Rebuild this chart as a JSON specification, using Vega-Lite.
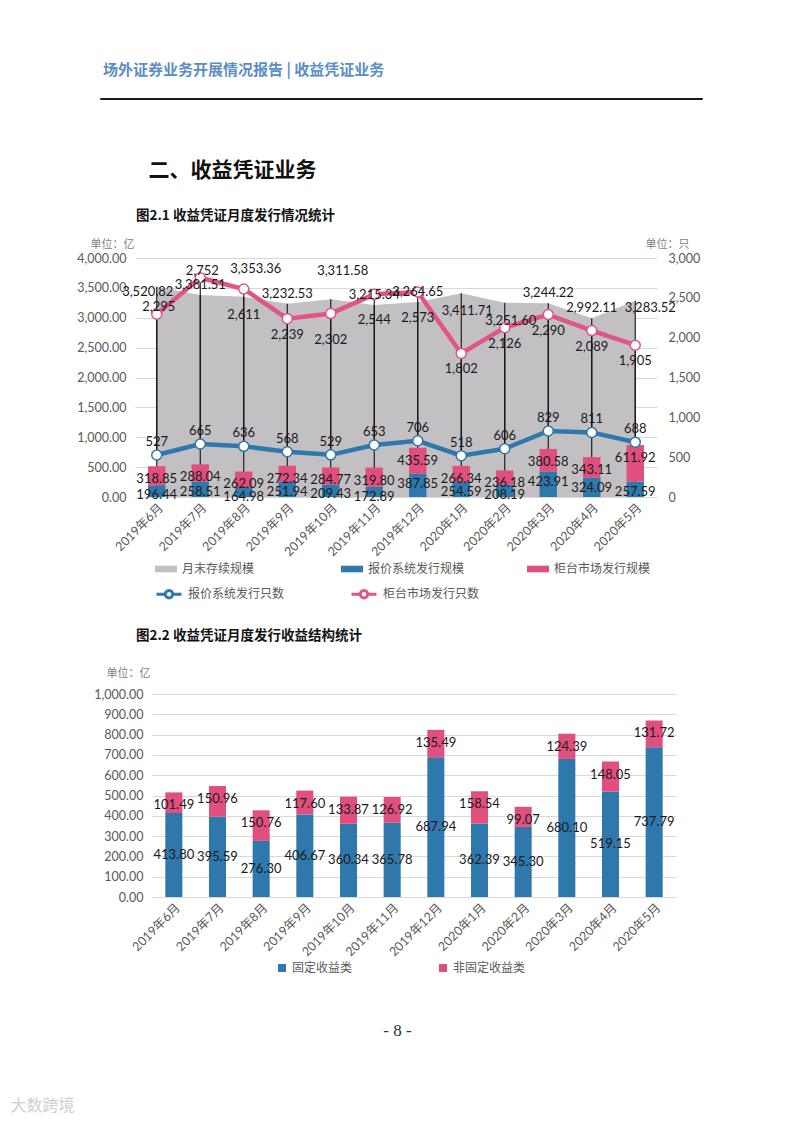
{
"$schema": "https://vega.github.io/schema/vega-lite/v6.json",
"padding": {"left": 10, "top": 62, "right": 5, "bottom": 5},
"background": "white",
"bounds": "flush",
"spacing": 159,
"resolve": {"scale": {"color": "independent", "stroke": "independent"}, "legend": {"color": "independent", "stroke": "independent"}},
"config": {
  "view": {"stroke": null},
  "font": "Lato, 'Noto Sans CJK SC', sans-serif",
  "axis": {"labelFont": "Lato, 'Noto Sans CJK SC', sans-serif", "titleFont": "'Noto Sans CJK SC', sans-serif", "labelColor": "#595959", "labelFontSize": 12, "labelOverlap": false, "domain": false, "ticks": false, "gridColor": "#d9d9d9", "gridWidth": 1},
  "legend": {"labelFont": "'Noto Sans CJK SC', sans-serif", "labelColor": "#595959", "labelFontSize": 12, "padding": 0},
  "title": {"font": "'Noto Sans CJK SC', sans-serif", "anchor": "start", "frame": "group", "color": "#111111"},
  "text": {"font": "Lato, sans-serif", "fontSize": 13, "color": "#1a1a1a"}
},
"vconcat": [
{
  "width": 602, "height": 1,
  "view": {"stroke": "#1a1a1a", "strokeWidth": 1},
  "title": {"text": "场外证券业务开展情况报告 | 收益凭证业务", "dx": 3, "offset": 20, "fontSize": 15, "fontWeight": "bold", "color": "#5b8ec4"},
  "data": {"values": []},
  "mark": "point",
  "encoding": {"x": {"field": "a", "type": "quantitative", "scale": {"domain": [0, 1]}, "axis": {"title": "二、收益凭证业务", "labels": false, "grid": false, "titleX": 48, "titleY": 71, "titleAlign": "left", "titleBaseline": "middle", "titleFontSize": 21, "titleFontWeight": "bold", "titleColor": "#111111"}}}
},
{
  "width": 557, "height": 239,
  "title": {"text": "图2.1 收益凭证月度发行情况统计", "dx": 36, "offset": 16, "fontSize": 13.5, "fontWeight": "bold"},
  "data": {"values": [
    {"m": "2019年6月", "stock": 3520.82, "qBlue": 196.44, "cPink": 318.85, "nBlue": 527, "nPink": 2295},
    {"m": "2019年7月", "stock": 3381.51, "qBlue": 258.51, "cPink": 288.04, "nBlue": 665, "nPink": 2752},
    {"m": "2019年8月", "stock": 3353.36, "qBlue": 164.98, "cPink": 262.09, "nBlue": 636, "nPink": 2611},
    {"m": "2019年9月", "stock": 3232.53, "qBlue": 251.94, "cPink": 272.34, "nBlue": 568, "nPink": 2239},
    {"m": "2019年10月", "stock": 3311.58, "qBlue": 209.43, "cPink": 284.77, "nBlue": 529, "nPink": 2302},
    {"m": "2019年11月", "stock": 3215.34, "qBlue": 172.89, "cPink": 319.80, "nBlue": 653, "nPink": 2544},
    {"m": "2019年12月", "stock": 3264.65, "qBlue": 387.85, "cPink": 435.59, "nBlue": 706, "nPink": 2573},
    {"m": "2020年1月", "stock": 3411.71, "qBlue": 254.59, "cPink": 266.34, "nBlue": 518, "nPink": 1802},
    {"m": "2020年2月", "stock": 3251.60, "qBlue": 208.19, "cPink": 236.18, "nBlue": 606, "nPink": 2126},
    {"m": "2020年3月", "stock": 3244.22, "qBlue": 423.91, "cPink": 380.58, "nBlue": 829, "nPink": 2290},
    {"m": "2020年4月", "stock": 2992.11, "qBlue": 324.09, "cPink": 343.11, "nBlue": 811, "nPink": 2089},
    {"m": "2020年5月", "stock": 3283.52, "qBlue": 257.59, "cPink": 611.92, "nBlue": 688, "nPink": 1905}
  ]},
  "resolve": {"scale": {"y": "independent"}},
  "layer": [
    {
      "mark": {"type": "area", "opacity": 1},
      "encoding": {
        "x": {"field": "m", "type": "nominal", "sort": null, "title": "大数跨境",
              "scale": {"type": "band", "domain": ["2019年6月","2019年7月","2019年8月","2019年9月","2019年10月","2019年11月","2019年12月","2020年1月","2020年2月","2020年3月","2020年4月","2020年5月"], "range": [35, 557], "paddingInner": 0, "paddingOuter": 0},
              "axis": {"labelAngle": -45, "labelPadding": 4, "labelFontSize": 12.5, "labelFont": "Lato, 'Noto Sans CJK SC', sans-serif", "titleX": -90, "titleY": 608, "titleAlign": "left", "titleBaseline": "middle", "titleFontSize": 16, "titleFontWeight": "normal", "titleColor": "#cfcfcf"}},
        "y": {"field": "stock", "type": "quantitative", "scale": {"domain": [0, 4000], "nice": false},
              "axis": {"title": "单位：亿", "offset": -35, "values": [0,500,1000,1500,2000,2500,3000,3500,4000], "labelOverlap": false, "format": ",.2f", "grid": true, "labelPadding": 9, "labelFontSize": 12.5, "titleAngle": 0, "titleX": -45, "titleY": -14, "titleAlign": "left", "titleBaseline": "middle", "titleFontSize": 11, "titleFontWeight": "normal", "titleColor": "#808080"}},
        "color": {"datum": "stock", "type": "nominal",
                  "scale": {"domain": ["stock", "qBlue", "cPink"], "range": ["#c2c0c3", "#2e78ab", "#e04f7e"]},
                  "legend": {"title": null, "orient": "none", "legendX": 55, "legendY": 300, "direction": "horizontal", "columns": 3, "gridAlign": "all", "columnPadding": 62, "symbolType": "M-1,-0.3H1V0.3H-1Z", "symbolSize": 484, "symbolStrokeWidth": 0, "labelOffset": 5,
                             "labelExpr": "datum.label == 'stock' ? '月末存续规模' : datum.label == 'qBlue' ? '报价系统发行规模' : '柜台市场发行规模'"}}
      }
    },
    {
      "layer": [
        {
          "mark": {"type": "rule", "color": "#111111", "strokeWidth": 1.1},
          "encoding": {
            "x": {"field": "m", "type": "nominal", "sort": null},
            "y": {"field": "stock", "type": "quantitative", "scale": {"domain": [0, 4000], "nice": false}, "axis": null},
            "y2": {"datum": 0}
          }
        },
        {
          "transform": [{"fold": ["qBlue", "cPink"], "as": ["k", "v"]}],
          "mark": {"type": "bar", "width": {"band": 0.4}},
          "encoding": {
            "x": {"field": "m", "type": "nominal", "sort": null},
            "y": {"field": "v", "type": "quantitative", "stack": "zero", "scale": {"domain": [0, 4000], "nice": false}, "axis": null},
            "color": {"field": "k", "type": "nominal", "title": null},
            "order": {"field": "k", "sort": "descending"}
          }
        },
        {
          "mark": {"type": "text", "dy": 10},
          "encoding": {
            "x": {"field": "m", "type": "nominal", "sort": null},
            "y": {"field": "qBlue", "type": "quantitative", "scale": {"domain": [0, 4000], "nice": false}, "axis": null},
            "text": {"field": "qBlue", "format": ".2f"}
          }
        },
        {
          "transform": [
            {"fold": ["qBlue", "cPink"], "as": ["k", "v"]},
            {"stack": "v", "groupby": ["m"], "sort": [{"field": "k", "order": "descending"}], "as": ["v0", "v1"]},
            {"filter": "datum.k == 'cPink'"}
          ],
          "mark": {"type": "text", "dy": 13},
          "encoding": {
            "x": {"field": "m", "type": "nominal", "sort": null},
            "y": {"field": "v1", "type": "quantitative", "scale": {"domain": [0, 4000], "nice": false}, "axis": null},
            "text": {"field": "v", "format": ".2f"}
          }
        }
      ]
    },
    {
      "mark": {"type": "rule", "color": "#111111", "strokeWidth": 1.1},
      "encoding": {
        "x": {"field": "m", "type": "nominal", "sort": null},
        "y": {"field": "nPink", "type": "quantitative", "scale": {"domain": [0, 3000], "nice": false},
              "axis": {"title": "单位：只", "orient": "right", "values": [0,500,1000,1500,2000,2500,3000], "labelOverlap": false, "format": ",d", "grid": false, "labelPadding": 11, "labelFontSize": 12.5, "titleAngle": 0, "titleX": -12, "titleY": -14, "titleAlign": "left", "titleBaseline": "middle", "titleFontSize": 11, "titleFontWeight": "normal", "titleColor": "#808080"}},
        "y2": {"field": "nBlue"}
      }
    },
    {
      "layer": [
        {
          "mark": {"type": "line", "strokeWidth": 4.5},
          "encoding": {
            "x": {"field": "m", "type": "nominal", "sort": null},
            "y": {"field": "nBlue", "type": "quantitative", "scale": {"domain": [0, 3000], "nice": false}, "axis": null},
            "stroke": {"datum": "nBlue", "type": "nominal",
                       "scale": {"domain": ["nBlue", "nPink"], "range": ["#2e78ab", "#e05585"]},
                       "legend": {"title": null, "orient": "none", "legendX": 55, "legendY": 322, "direction": "horizontal", "columns": 2, "gridAlign": "all", "columnPadding": 60,
                                  "symbolType": "M-1,0H-0.3M0.3,0H1M-0.3,0A0.3,0.3 0 1,0 0.3,0A0.3,0.3 0 1,0 -0.3,0", "symbolSize": 625, "symbolStrokeWidth": 3, "symbolFillColor": "white", "labelOffset": 5,
                                  "labelExpr": "datum.label == 'nBlue' ? '报价系统发行只数' : '柜台市场发行只数'"}}
          }
        },
        {
          "mark": {"type": "line", "strokeWidth": 4.5},
          "encoding": {
            "x": {"field": "m", "type": "nominal", "sort": null},
            "y": {"field": "nPink", "type": "quantitative", "scale": {"domain": [0, 3000], "nice": false}, "axis": null},
            "stroke": {"datum": "nPink", "type": "nominal"}
          }
        },
        {
          "mark": {"type": "point", "filled": true, "fill": "white", "size": 100, "strokeWidth": 1.5, "opacity": 1},
          "encoding": {
            "x": {"field": "m", "type": "nominal", "sort": null},
            "y": {"field": "nBlue", "type": "quantitative", "scale": {"domain": [0, 3000], "nice": false}, "axis": null},
            "stroke": {"datum": "nBlue", "type": "nominal"}
          }
        },
        {
          "mark": {"type": "point", "filled": true, "fill": "white", "size": 100, "strokeWidth": 1.5, "opacity": 1},
          "encoding": {
            "x": {"field": "m", "type": "nominal", "sort": null},
            "y": {"field": "nPink", "type": "quantitative", "scale": {"domain": [0, 3000], "nice": false}, "axis": null},
            "stroke": {"datum": "nPink", "type": "nominal"}
          }
        },
        {
          "mark": {"type": "text", "dy": -13},
          "encoding": {
            "x": {"field": "m", "type": "nominal", "sort": null},
            "y": {"field": "nBlue", "type": "quantitative", "scale": {"domain": [0, 3000], "nice": false}, "axis": null},
            "text": {"field": "nBlue", "format": ",d"}
          }
        },
        {
          "transform": [{"filter": {"field": "m", "oneOf": ["2019年6月", "2019年7月"]}}],
          "mark": {"type": "text", "dy": -7, "dx": 2},
          "encoding": {
            "x": {"field": "m", "type": "nominal", "sort": null},
            "y": {"field": "nPink", "type": "quantitative", "scale": {"domain": [0, 3000], "nice": false}, "axis": null},
            "text": {"field": "nPink", "format": ",d"}
          }
        },
        {
          "transform": [{"filter": {"field": "m", "oneOf": ["2019年8月", "2019年10月", "2019年11月", "2019年12月"]}}],
          "mark": {"type": "text", "dy": 26},
          "encoding": {
            "x": {"field": "m", "type": "nominal", "sort": null},
            "y": {"field": "nPink", "type": "quantitative", "scale": {"domain": [0, 3000], "nice": false}, "axis": null},
            "text": {"field": "nPink", "format": ",d"}
          }
        },
        {
          "transform": [{"filter": {"field": "m", "oneOf": ["2019年9月", "2020年1月", "2020年2月", "2020年3月", "2020年4月", "2020年5月"]}}],
          "mark": {"type": "text", "dy": 16},
          "encoding": {
            "x": {"field": "m", "type": "nominal", "sort": null},
            "y": {"field": "nPink", "type": "quantitative", "scale": {"domain": [0, 3000], "nice": false}, "axis": null},
            "text": {"field": "nPink", "format": ",d"}
          }
        }
      ]
    },
    {
      "layer": [
        {
          "transform": [{"filter": {"field": "m", "oneOf": ["2019年8月", "2019年10月"]}}],
          "mark": {"type": "text", "dy": -28, "dx": 12},
          "encoding": {
            "x": {"field": "m", "type": "nominal", "sort": null},
            "y": {"field": "stock", "type": "quantitative", "scale": {"domain": [0, 4000], "nice": false}, "axis": null},
            "text": {"field": "stock", "format": ",.2f"}
          }
        },
        {
          "transform": [{"filter": {"field": "m", "oneOf": ["2019年7月", "2019年9月", "2019年11月", "2019年12月", "2020年3月", "2020年4月"]}}],
          "mark": {"type": "text", "dy": -10},
          "encoding": {
            "x": {"field": "m", "type": "nominal", "sort": null},
            "y": {"field": "stock", "type": "quantitative", "scale": {"domain": [0, 4000], "nice": false}, "axis": null},
            "text": {"field": "stock", "format": ",.2f"}
          }
        },
        {
          "transform": [{"filter": {"field": "m", "oneOf": ["2019年6月"]}}],
          "mark": {"type": "text", "dy": 5, "dx": -9},
          "encoding": {
            "x": {"field": "m", "type": "nominal", "sort": null},
            "y": {"field": "stock", "type": "quantitative", "scale": {"domain": [0, 4000], "nice": false}, "axis": null},
            "text": {"field": "stock", "format": ",.2f"}
          }
        },
        {
          "transform": [{"filter": {"field": "m", "oneOf": ["2020年1月", "2020年2月"]}}],
          "mark": {"type": "text", "dy": 18, "dx": 6},
          "encoding": {
            "x": {"field": "m", "type": "nominal", "sort": null},
            "y": {"field": "stock", "type": "quantitative", "scale": {"domain": [0, 4000], "nice": false}, "axis": null},
            "text": {"field": "stock", "format": ",.2f"}
          }
        },
        {
          "transform": [{"filter": {"field": "m", "oneOf": ["2020年5月"]}}],
          "mark": {"type": "text", "dy": 7, "dx": 15},
          "encoding": {
            "x": {"field": "m", "type": "nominal", "sort": null},
            "y": {"field": "stock", "type": "quantitative", "scale": {"domain": [0, 4000], "nice": false}, "axis": null},
            "text": {"field": "stock", "format": ",.2f"}
          }
        }
      ]
    }
  ]
},
{
  "width": 576, "height": 241,
  "title": {"text": "图2.2 收益凭证月度发行收益结构统计", "dx": 36, "offset": 14, "fontSize": 13.5, "fontWeight": "bold"},
  "data": {"values": [
    {"m": "2019年6月", "fixed": 413.80, "nonfixed": 101.49},
    {"m": "2019年7月", "fixed": 395.59, "nonfixed": 150.96},
    {"m": "2019年8月", "fixed": 276.30, "nonfixed": 150.76},
    {"m": "2019年9月", "fixed": 406.67, "nonfixed": 117.60},
    {"m": "2019年10月", "fixed": 360.34, "nonfixed": 133.87},
    {"m": "2019年11月", "fixed": 365.78, "nonfixed": 126.92},
    {"m": "2019年12月", "fixed": 687.94, "nonfixed": 135.49},
    {"m": "2020年1月", "fixed": 362.39, "nonfixed": 158.54},
    {"m": "2020年2月", "fixed": 345.30, "nonfixed": 99.07},
    {"m": "2020年3月", "fixed": 680.10, "nonfixed": 124.39},
    {"m": "2020年4月", "fixed": 519.15, "nonfixed": 148.05},
    {"m": "2020年5月", "fixed": 737.79, "nonfixed": 131.72}
  ]},
  "resolve": {"scale": {"y": "independent"}},
  "layer": [
    {
      "transform": [{"fold": ["fixed", "nonfixed"], "as": ["k", "v"]}],
      "mark": {"type": "bar", "width": {"band": 0.39}},
      "encoding": {
        "x": {"field": "m", "type": "nominal", "sort": null, "title": "- 8 -",
              "scale": {"type": "band", "domain": ["2019年6月","2019年7月","2019年8月","2019年9月","2019年10月","2019年11月","2019年12月","2020年1月","2020年2月","2020年3月","2020年4月","2020年5月"], "range": [52, 576], "paddingInner": 0, "paddingOuter": 0},
              "axis": {"labelAngle": -45, "labelPadding": 4, "labelFontSize": 12.5, "titleX": 297, "titleY": 133, "titleAlign": "center", "titleBaseline": "middle", "titleFont": "'Liberation Serif', serif", "titleFontSize": 17, "titleFontWeight": "normal", "titleColor": "#333333"}},
        "y": {"field": "v", "type": "quantitative", "stack": "zero", "scale": {"domain": [0, 1000], "range": [241, 38], "nice": false},
              "axis": {"title": "单位：亿", "offset": -52, "values": [0,100,200,300,400,500,600,700,800,900,1000], "format": ",.2f", "grid": true, "labelPadding": 9, "labelFontSize": 12.5, "titleAngle": 0, "titleX": -46, "titleY": 17, "titleAlign": "left", "titleBaseline": "middle", "titleFontSize": 11, "titleFontWeight": "normal", "titleColor": "#808080"}},
        "color": {"field": "k", "type": "nominal", "scale": {"domain": ["fixed", "nonfixed"], "range": ["#2e78ab", "#e04f7e"]},
                  "legend": {"title": null, "orient": "none", "legendX": 176, "legendY": 306, "direction": "horizontal", "columns": 2, "columnPadding": 84, "symbolType": "square", "symbolSize": 64, "symbolStrokeWidth": 0, "labelOffset": 4,
                             "labelExpr": "datum.label == 'fixed' ? '固定收益类' : '非固定收益类'"}},
        "order": {"field": "k", "sort": "ascending"}
      }
    },
    {
      "transform": [
        {"fold": ["fixed", "nonfixed"], "as": ["k", "v"]},
        {"stack": "v", "groupby": ["m"], "sort": [{"field": "k", "order": "ascending"}], "as": ["v0", "v1"]},
        {"filter": "datum.k == 'nonfixed'"}
      ],
      "mark": {"type": "text", "dy": 13},
      "encoding": {
        "x": {"field": "m", "type": "nominal", "sort": null},
        "y": {"field": "v1", "type": "quantitative", "scale": {"domain": [0, 1000], "range": [241, 38], "nice": false}, "axis": null},
        "text": {"field": "v", "format": ".2f"}
      }
    },
    {
      "mark": {"type": "text"},
      "encoding": {
        "x": {"field": "m", "type": "nominal", "sort": null},
        "y": {"field": "fixed", "type": "quantitative", "scale": {"domain": [0, 2000], "range": [241, 38], "nice": false}, "axis": null},
        "text": {"field": "fixed", "format": ".2f"}
      }
    }
  ]
}
]
}
